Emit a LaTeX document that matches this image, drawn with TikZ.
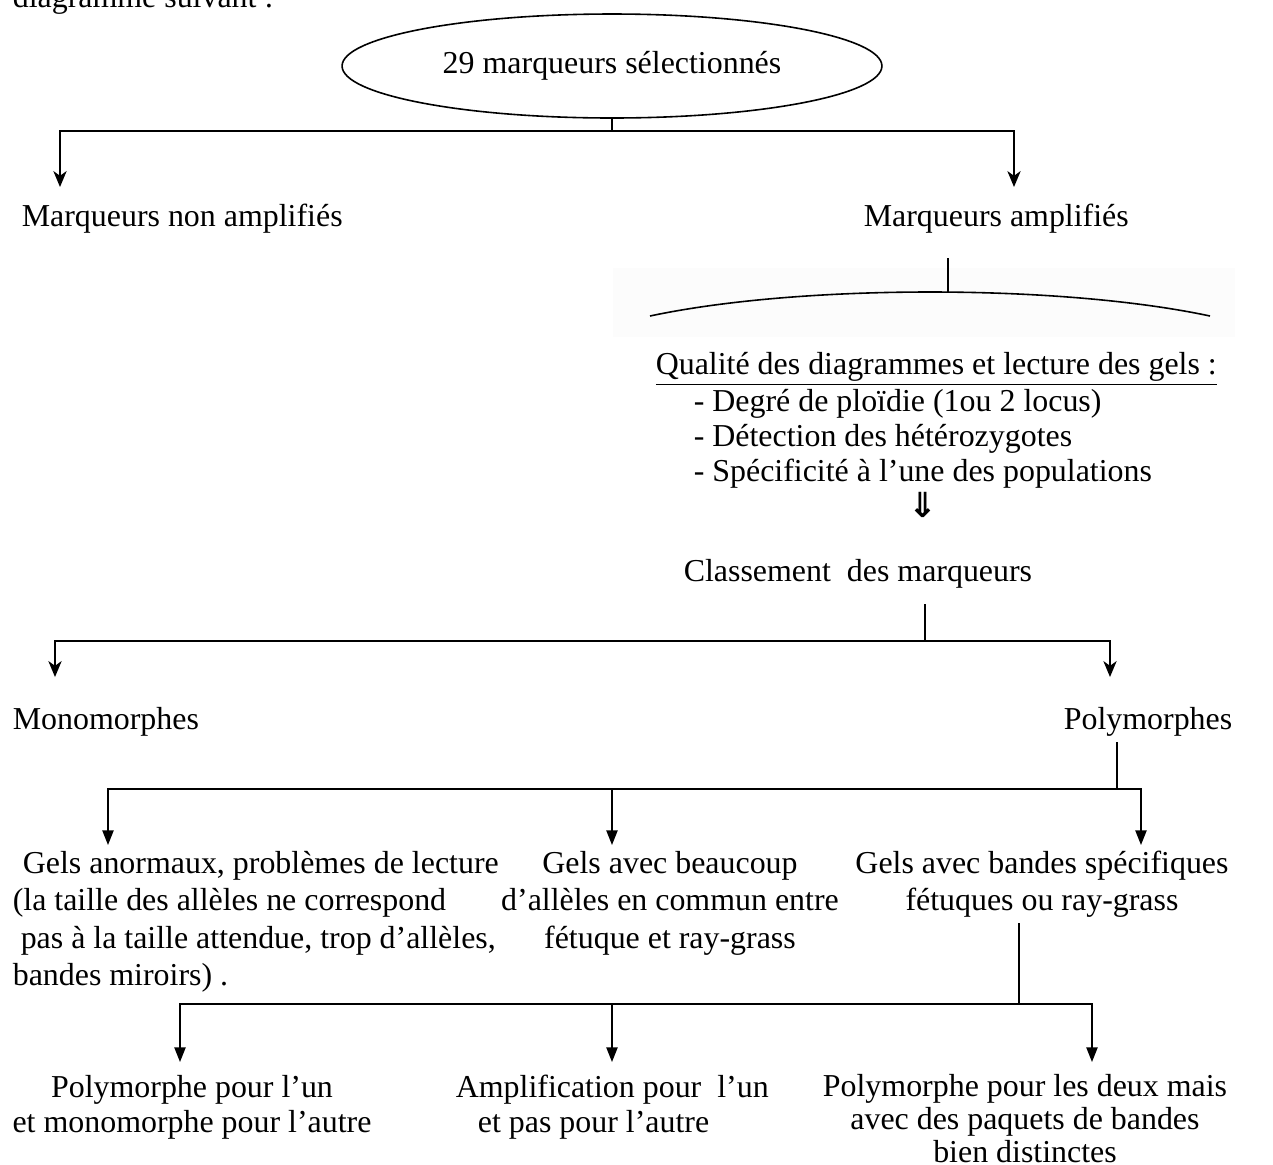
\documentclass[tikz,border=0pt]{standalone}
\usepackage{fontspec}
\setmainfont{Liberation Serif}
\newfontfamily\arrowfont{DejaVu Sans}
\usetikzlibrary{arrows.meta,shapes.geometric}

\begin{document}
\begin{tikzpicture}[x=0.376pt,y=-0.376pt,
  line width=0.6pt,
  lbl/.style={inner sep=0pt,font=\fontsize{12}{14}\selectfont},
  arrS/.style={-{Stealth[length=6pt,width=5pt,inset=1.8pt]}},
  arrT/.style={-{Triangle[length=5.5pt,width=4.2pt]}}]
\useasboundingbox (0,0) rectangle (1273,1164);
\clip (0,0) rectangle (1273,1164);

% page text above the chart
\node[lbl,anchor=base west] (hdr) at (12,7) {diagramme suivant :};

% root
\node[draw,ellipse,inner sep=0pt,minimum width=203pt,minimum height=39.1pt,
      font=\fontsize{12}{14}\selectfont] (ell) at (612,66) {\raisebox{-1.3pt}{29 marqueurs sélectionnés}};

% first split
\node[lbl,anchor=base west] (nonamp) at (21,226) {Marqueurs non amplifiés};
\node[lbl,anchor=base west] (amp) at (863,226) {Marqueurs amplifiés};
\coordinate (j1) at (612,131);
\coordinate (t1) at (60,187);
\coordinate (t2) at (1014,187);
\draw (ell.south) -- (j1);
\draw[arrS] (j1) -| (t1);
\draw[arrS] (j1) -| (t2);

% arched bracket over the quality criteria
\fill[black!1] (613,268) rectangle (1235,337);
\coordinate (s1) at (948,258);
\coordinate (apex) at (948,292);
\coordinate (arcL) at (650,316);
\coordinate (arcR) at (1210,316);
\draw (s1) -- (apex);
\draw (arcL) .. controls (800,284) and (1060,284) .. (arcR);

\node[lbl,anchor=base west] (qual) at (655,374)
  {\underline{Qualité des diagrammes et lecture des gels :}};
\node[lbl,align=left,anchor=north west,font=\fontsize{12}{13.2}\selectfont] (crit) at (693,385.7)
  {\rule{0pt}{9.5pt}- Degré de ploïdie (1ou 2 locus)\\
   - Détection des hétérozygotes\\
   - Spécificité à l’une des populations};
\node[inner sep=0pt,font=\arrowfont\bfseries\fontsize{13}{13}\selectfont] (darr) at (923,505) {⇓};

% classification
\node[lbl,anchor=base west] (class) at (683,581) {Classement\ \ des marqueurs};
\coordinate (c1) at (925,604);
\coordinate (j2) at (925,641);
\coordinate (t3) at (55,677);
\coordinate (t4) at (1110,677);
\draw (c1) -- (j2);
\draw[arrS] (j2) -| (t3);
\draw[arrS] (j2) -| (t4);

\node[lbl,anchor=base west] (mono) at (12,729) {Monomorphes};
\node[lbl,anchor=base west] (poly) at (1063,729) {Polymorphes};

% polymorphic markers: three kinds of gels
\coordinate (p1) at (1117,742);
\coordinate (j3) at (1117,789);
\coordinate (m3) at (612,789);
\coordinate (t5) at (108,845);
\coordinate (t6) at (612,845);
\coordinate (t7) at (1141,845);
\draw (p1) -- (j3);
\draw[arrT] (j3) -| (t5);
\draw[arrT] (j3) -| (t7);
\draw[arrT] (m3) -- (t6);

\node[lbl,align=left,anchor=north west,font=\fontsize{12}{14.1}\selectfont] (gA) at (12,847)
  {\rule{0pt}{9.5pt}\hspace{3.8pt}Gels anormaux, problèmes de lecture\\
   (la taille des allèles ne correspond\\
   \hspace{3pt}pas à la taille attendue, trop d’allèles,\\
   bandes miroirs) .};
\node[lbl,align=center,anchor=north,font=\fontsize{12}{14.1}\selectfont] (gB) at (670,847)
  {\rule{0pt}{9.5pt}Gels avec beaucoup\\
   d’allèles en commun entre\\
   fétuque et ray-grass};
\node[lbl,align=center,anchor=north,font=\fontsize{12}{14.1}\selectfont] (gC) at (1042,847)
  {\rule{0pt}{9.5pt}Gels avec bandes spécifiques\\
   fétuques ou ray-grass};

% specific bands: three cases
\coordinate (f1) at (1019,923);
\coordinate (j4) at (1019,1004);
\coordinate (m4) at (612,1004);
\coordinate (t8) at (180,1062);
\coordinate (t9) at (612,1062);
\coordinate (t10) at (1092,1062);
\draw (f1) -- (j4);
\draw[arrT] (j4) -| (t8);
\draw[arrT] (j4) -| (t10);
\draw[arrT] (m4) -- (t9);

\node[lbl,align=center,anchor=north,font=\fontsize{12}{13.2}\selectfont] (pA) at (192,1071)
  {\rule{0pt}{9.5pt}Polymorphe pour l’un\\
   et monomorphe pour l’autre};
\node[lbl,align=left,anchor=north west,font=\fontsize{12}{13.2}\selectfont] (pB) at (455,1071)
  {\rule{0pt}{9.5pt}Amplification pour\ \ l’un\\
   \hspace{8.3pt}et pas pour l’autre};
\node[lbl,align=center,anchor=north,font=\fontsize{12}{12.4}\selectfont] (pC) at (1025,1070)
  {\rule{0pt}{9.5pt}Polymorphe pour les deux mais\\
   avec des paquets de bandes\\
   bien distinctes};
\end{tikzpicture}
\end{document}
